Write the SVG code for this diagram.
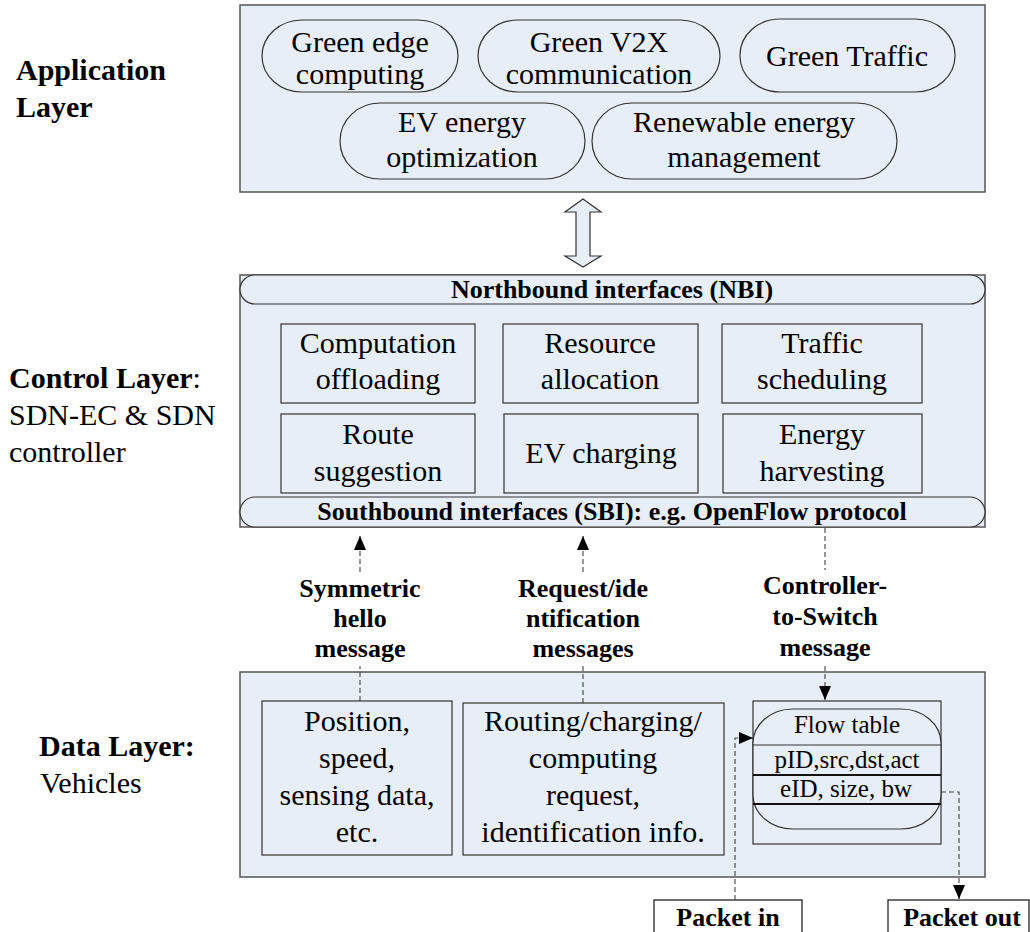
<svg xmlns="http://www.w3.org/2000/svg" width="1030" height="932" viewBox="0 0 1030 932" font-family="'Liberation Serif', 'Times New Roman', 'DejaVu Serif', serif">
<defs>
<style>
text{font-family:'Liberation Serif','Times New Roman','DejaVu Serif',serif}
.t{font-size:30px;fill:#000;text-anchor:middle}
.b{font-weight:bold;fill:#000}
.lbl{font-size:30px;fill:#000}
.ft{font-size:25px;fill:#000;text-anchor:middle}
.layer{fill:#E8EEF7;stroke:#555;stroke-width:1.5}
.box{fill:#E8EEF7;stroke:#333;stroke-width:1.2}
.pill{fill:#E8EEF7;stroke:#333;stroke-width:1.2}
.dash{fill:none;stroke:#444;stroke-width:1.1;stroke-dasharray:5 3}
.wbox{fill:#fff;stroke:#222;stroke-width:1.3}
</style>
<marker id="ah" viewBox="0 0 14 12" refX="14" refY="6" markerWidth="14" markerHeight="12" markerUnits="userSpaceOnUse" orient="auto">
<path d="M0,0 L14,6 L0,12 Z" fill="#000"/>
</marker>
<marker id="ahL" viewBox="0 0 14 12" refX="14" refY="6" markerWidth="14" markerHeight="12" markerUnits="userSpaceOnUse" orient="auto">
<path d="M0,0 L14,6 L0,12 Z" fill="#000"/>
</marker>
</defs>
<rect width="1030" height="932" fill="#fff"/>

<!-- Side labels -->
<g id="label-application">
<text class="b" font-size="30" x="16" y="80">Application</text>
<text class="b" font-size="30" x="16" y="117">Layer</text>
</g>
<g id="label-control">
<text class="lbl" x="9" y="388"><tspan font-weight="bold">Control Layer</tspan>:</text>
<text class="lbl" x="9" y="425">SDN-EC &amp; SDN</text>
<text class="lbl" x="9" y="462">controller</text>
</g>
<g id="label-data">
<text class="b" font-size="30" x="39" y="756">Data Layer:</text>
<text class="lbl" x="40" y="793">Vehicles</text>
</g>

<!-- Application layer -->
<g id="application-layer">
<rect class="layer" x="240" y="5" width="745" height="187"/>
</g>
<g id="app-green-edge">
<rect class="pill" x="262" y="20" width="196" height="72" rx="40" ry="36"/>
<text class="t" x="360" y="52">Green edge</text>
<text class="t" x="360" y="84">computing</text>
</g>
<g id="app-green-v2x">
<rect class="pill" x="478" y="20" width="242" height="72" rx="40" ry="36"/>
<text class="t" x="599" y="52">Green V2X</text>
<text class="t" x="599" y="84">communication</text>
</g>
<g id="app-green-traffic">
<rect class="pill" x="740" y="19" width="215" height="73" rx="40" ry="36"/>
<text class="t" x="847" y="66">Green Traffic</text>
</g>
<g id="app-ev-energy">
<rect class="pill" x="340" y="103" width="245" height="76" rx="40" ry="38"/>
<text class="t" x="462" y="132">EV energy</text>
<text class="t" x="462" y="167">optimization</text>
</g>
<g id="app-renewable">
<rect class="pill" x="592" y="103" width="305" height="76" rx="40" ry="38"/>
<text class="t" x="744" y="132">Renewable energy</text>
<text class="t" x="744" y="167">management</text>
</g>

<!-- Control layer -->
<g id="control-layer">
<rect class="layer" x="240" y="275" width="745" height="252"/>
</g>
<g id="nbi">
<rect class="pill" x="240" y="275" width="745" height="29" rx="15" ry="14.5"/>
<text class="b" font-size="26" x="612" y="298" text-anchor="middle">Northbound interfaces (NBI)</text>
</g>
<g id="ctrl-computation">
<rect class="box" x="281" y="324" width="194" height="79"/>
<text class="t" x="378" y="353">Computation</text>
<text class="t" x="378" y="389">offloading</text>
</g>
<g id="ctrl-resource">
<rect class="box" x="503" y="324" width="195" height="79"/>
<text class="t" x="600" y="353">Resource</text>
<text class="t" x="600" y="389">allocation</text>
</g>
<g id="ctrl-traffic">
<rect class="box" x="722" y="324" width="200" height="79"/>
<text class="t" x="822" y="353">Traffic</text>
<text class="t" x="822" y="389">scheduling</text>
</g>
<g id="ctrl-route">
<rect class="box" x="281" y="414" width="194" height="79"/>
<text class="t" x="378" y="444">Route</text>
<text class="t" x="378" y="481">suggestion</text>
</g>
<g id="ctrl-ev-charging">
<rect class="box" x="504" y="414" width="194" height="79"/>
<text class="t" x="601" y="463">EV charging</text>
</g>
<g id="ctrl-energy">
<rect class="box" x="723" y="414" width="199" height="79"/>
<text class="t" x="822" y="444">Energy</text>
<text class="t" x="822" y="481">harvesting</text>
</g>
<g id="sbi">
<rect class="pill" x="240" y="497" width="745" height="30" rx="15" ry="15"/>
<text class="b" font-size="26" x="612" y="520" text-anchor="middle">Southbound interfaces (SBI): e.g. OpenFlow protocol</text>
</g>

<!-- Data layer -->
<g id="data-layer">
<rect class="layer" x="240" y="672" width="745" height="205"/>
</g>
<g id="data-position">
<rect class="box" x="262" y="701" width="190" height="154"/>
<text class="t" x="357" y="731">Position,</text>
<text class="t" x="357" y="768">speed,</text>
<text class="t" x="357" y="805">sensing data,</text>
<text class="t" x="357" y="842">etc.</text>
</g>
<g id="data-routing">
<rect class="box" x="463" y="703" width="261" height="152"/>
<text class="t" x="593" y="731">Routing/charging/</text>
<text class="t" x="593" y="768">computing</text>
<text class="t" x="593" y="805">request,</text>
<text class="t" x="593" y="842">identification info.</text>
</g>
<g id="flow-table">
<rect class="box" x="753" y="701" width="188" height="143"/>
<rect class="pill" x="753" y="709" width="188" height="120" rx="40" ry="34"/>
<line x1="753" y1="745" x2="941" y2="745" stroke="#333" stroke-width="1.2"/>
<line x1="753" y1="775" x2="941" y2="775" stroke="#111" stroke-width="2.2"/>
<line x1="753" y1="804" x2="941" y2="804" stroke="#111" stroke-width="2.2"/>
<text class="ft" x="847" y="733">Flow table</text>
<text class="ft" x="847" y="768">pID,src,dst,act</text>
<text class="ft" x="846" y="797">eID, size, bw</text>
</g>
<g id="packet-in">
<rect class="wbox" x="654" y="900" width="148" height="45"/>
<text class="b" font-size="26" x="728" y="926" text-anchor="middle">Packet in</text>
</g>
<g id="packet-out">
<rect class="wbox" x="888" y="900" width="141" height="45"/>
<text class="b" font-size="26" x="962" y="926" text-anchor="middle">Packet out</text>
</g>

<!-- Connector labels -->
<g id="msg-labels">
<text class="b" font-size="26" text-anchor="middle" x="360" y="597">Symmetric</text>
<text class="b" font-size="26" text-anchor="middle" x="360" y="627">hello</text>
<text class="b" font-size="26" text-anchor="middle" x="360" y="657">message</text>
<text class="b" font-size="26" text-anchor="middle" x="583" y="597">Request/ide</text>
<text class="b" font-size="26" text-anchor="middle" x="583" y="627">ntification</text>
<text class="b" font-size="26" text-anchor="middle" x="583" y="657">messages</text>
<text class="b" font-size="26" text-anchor="middle" x="825" y="594">Controller-</text>
<text class="b" font-size="26" text-anchor="middle" x="825" y="625">to-Switch</text>
<text class="b" font-size="26" text-anchor="middle" x="825" y="656">message</text>
</g>

<!-- Connectors -->
<g id="connectors">
<polygon points="583,199 601,212 590,212 590,256 601,256 583,267 565,256 576,256 576,212 565,212" fill="#E8EEF7" stroke="#333" stroke-width="1.2"/>
<line class="dash" x1="360" y1="701" x2="360" y2="666"/>
<line class="dash" x1="360" y1="572" x2="360" y2="536" marker-end="url(#ah)"/>
<line class="dash" x1="583" y1="703" x2="583" y2="666"/>
<line class="dash" x1="583" y1="572" x2="583" y2="536" marker-end="url(#ah)"/>
<line class="dash" x1="825" y1="528" x2="825" y2="570"/>
<line class="dash" x1="825" y1="666" x2="825" y2="700" marker-end="url(#ahL)"/>
<polyline class="dash" points="735,900 735,738 753,738" marker-end="url(#ahL)"/>
<polyline class="dash" points="941,792 959,792 959,899" marker-end="url(#ahL)"/>
</g>
</svg>
